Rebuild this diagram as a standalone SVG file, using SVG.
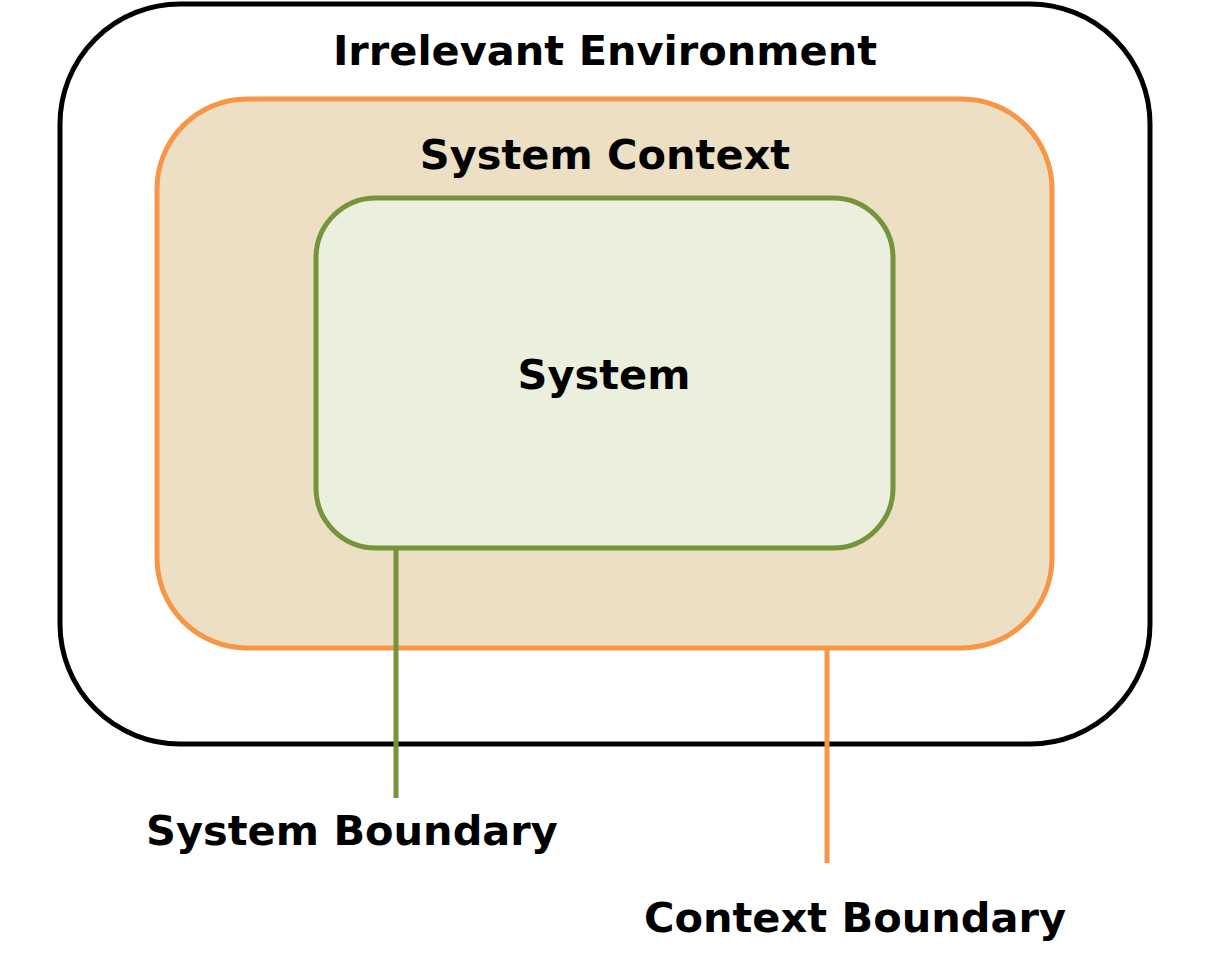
<svg xmlns="http://www.w3.org/2000/svg" width="1207" height="968" viewBox="0 0 1207 968">
<style>
text{font-family:"DejaVu Sans",Verdana,sans-serif;font-weight:bold;font-size:41.5px;fill:#000;text-anchor:middle}
.ln{fill:none;stroke-width:5}
</style>
<rect width="1207" height="968" fill="#fff"/>
<g id="environment">
<rect x="60" y="4" width="1090" height="740" rx="120" ry="120" fill="#fff" stroke="#000" stroke-width="5"/>
<text x="605" y="65">Irrelevant Environment</text>
</g>
<g id="context">
<rect x="157" y="99" width="895" height="549" rx="90" ry="90" fill="#ECDFC4" stroke="#F79646" stroke-width="5"/>
<text x="605" y="169">System Context</text>
</g>
<g id="system">
<rect x="316" y="198" width="577" height="350" rx="60" ry="60" fill="#EBF0DE" stroke="#77933C" stroke-width="5"/>
<text x="604" y="389">System</text>
</g>
<g id="connectors">
<line class="ln" x1="396" y1="548" x2="396" y2="798" stroke="#77933C"/>
<line class="ln" x1="827" y1="648" x2="827" y2="863" stroke="#F79646"/>
</g>
<g id="system-boundary"><text x="352" y="845">System Boundary</text></g>
<g id="context-boundary"><text x="855" y="932">Context Boundary</text></g>
</svg>
